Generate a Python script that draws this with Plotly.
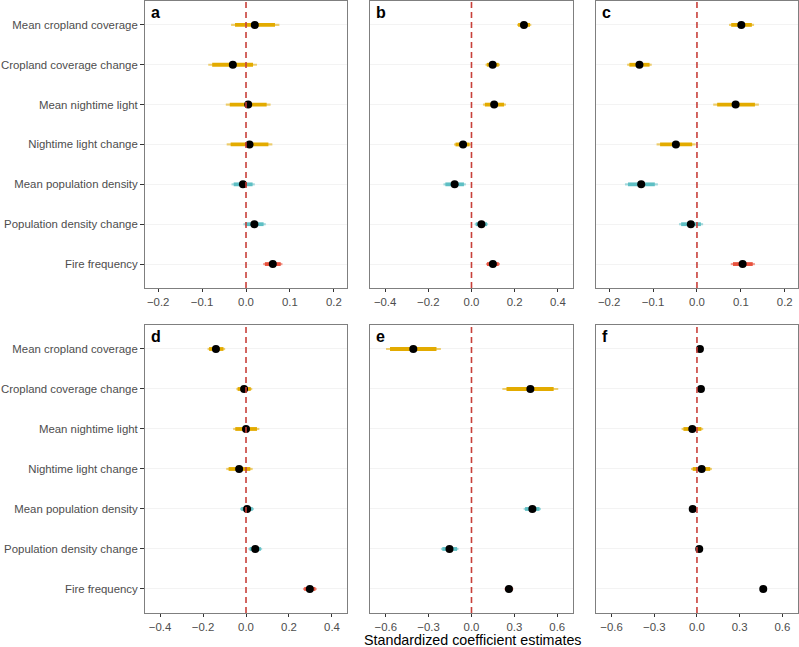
import plotly.graph_objects as go

categories = ["Mean cropland coverage", "Cropland coverage change", "Mean nightime light",
              "Nightime light change", "Mean population density", "Population density change",
              "Fire frequency"]
groups = ["land", "land", "land", "land", "pop", "pop", "fire"]
panel_labels = ["a", "b", "c", "d", "e", "f"]
x_title = "Standardized coefficient estimates"

# panel a
a_est = [0.020, -0.030, 0.005, 0.008, -0.007, 0.019, 0.061]
a_lo = [-0.034, -0.086, -0.046, -0.044, -0.033, -0.006, 0.039]
a_hi = [0.076, 0.025, 0.056, 0.060, 0.020, 0.045, 0.083]
a_ilo = [-0.025, -0.077, -0.037, -0.035, -0.028, -0.002, 0.043]
a_ihi = [0.066, 0.016, 0.047, 0.051, 0.015, 0.040, 0.079]
# panel b
b_est = [0.243, 0.098, 0.105, -0.039, -0.078, 0.046, 0.099]
b_lo = [0.211, 0.065, 0.053, -0.081, -0.130, 0.015, 0.067]
b_hi = [0.277, 0.132, 0.160, -0.003, -0.026, 0.077, 0.132]
b_ilo = [0.216, 0.071, 0.062, -0.074, -0.121, 0.020, 0.072]
b_ihi = [0.271, 0.126, 0.151, -0.009, -0.035, 0.072, 0.126]
# panel c
c_est = [0.101, -0.131, 0.088, -0.048, -0.127, -0.014, 0.104]
c_lo = [0.073, -0.159, 0.037, -0.092, -0.164, -0.041, 0.077]
c_hi = [0.130, -0.103, 0.141, -0.003, -0.089, 0.014, 0.132]
c_ilo = [0.078, -0.154, 0.046, -0.084, -0.157, -0.036, 0.082]
c_ihi = [0.125, -0.108, 0.132, -0.011, -0.096, 0.009, 0.127]
# panel d
d_est = [-0.140, -0.009, 0.000, -0.032, 0.005, 0.043, 0.297]
d_lo = [-0.179, -0.045, -0.060, -0.092, -0.028, 0.011, 0.265]
d_hi = [-0.097, 0.029, 0.062, 0.031, 0.037, 0.075, 0.329]
d_ilo = [-0.172, -0.039, -0.050, -0.081, -0.022, 0.017, 0.271]
d_ihi = [-0.105, 0.022, 0.051, 0.020, 0.031, 0.069, 0.323]
# panel e (no estimates for the two nighttime light predictors)
e_est = [-0.407, 0.412, None, None, 0.426, -0.154, 0.262]
e_lo = [-0.598, 0.216, None, None, 0.365, -0.214, 0.230]
e_hi = [-0.214, 0.607, None, None, 0.486, -0.091, 0.293]
e_ilo = [-0.570, 0.245, None, None, 0.375, -0.204, 0.236]
e_ihi = [-0.245, 0.575, None, None, 0.476, -0.101, 0.288]
# panel f
f_est = [0.021, 0.028, -0.033, 0.033, -0.030, 0.016, 0.466]
f_lo = [0.008, 0.018, -0.108, -0.042, -0.038, 0.010, 0.458]
f_hi = [0.035, 0.038, 0.044, 0.105, -0.022, 0.022, 0.474]
f_ilo = [0.011, 0.020, -0.095, -0.030, -0.037, 0.011, 0.460]
f_ihi = [0.032, 0.036, 0.031, 0.093, -0.023, 0.021, 0.472]

x_ranges = [[-0.23, 0.23], [-0.47, 0.47], [-0.23, 0.23],
            [-0.47, 0.47], [-0.71, 0.71], [-0.71, 0.71]]
x_ticks = [[-0.2, -0.1, 0.0, 0.1, 0.2], [-0.4, -0.2, 0.0, 0.2, 0.4], [-0.2, -0.1, 0.0, 0.1, 0.2],
           [-0.4, -0.2, 0.0, 0.2, 0.4], [-0.6, -0.3, 0.0, 0.3, 0.6], [-0.6, -0.3, 0.0, 0.3, 0.6]]

panels = [
    (a_est, a_lo, a_hi, a_ilo, a_ihi),
    (b_est, b_lo, b_hi, b_ilo, b_ihi),
    (c_est, c_lo, c_hi, c_ilo, c_ihi),
    (d_est, d_lo, d_hi, d_ilo, d_ihi),
    (e_est, e_lo, e_hi, e_ilo, e_ihi),
    (f_est, f_lo, f_hi, f_ilo, f_ihi),
]

dark = {"land": "#E3AB00", "pop": "#5EBFC4", "fire": "#E8513C"}
light = {"land": "rgba(227,171,0,0.55)", "pop": "rgba(94,191,196,0.55)", "fire": "rgba(232,81,60,0.55)"}

col_domains = [[0.1815, 0.4343], [0.4631, 0.7171], [0.7459, 0.9987]]
row_domains = [[0.5549, 0.9985], [0.0526, 0.4977]]

FONT = "Liberation Sans, Arial, sans-serif"
fig = go.Figure()
layout = dict(
    width=799, height=647, margin=dict(l=0, r=0, t=0, b=0, autoexpand=False),
    paper_bgcolor="white", plot_bgcolor="white", showlegend=False,
    font=dict(family=FONT, size=11.4, color="#4D4D4D"),
)
shapes = []
annotations = []

for p, (est, lo, hi, ilo, ihi) in enumerate(panels):
    idx = p + 1
    xa = "x" if idx == 1 else f"x{idx}"
    ya = "y" if idx == 1 else f"y{idx}"
    row, col = divmod(p, 3)
    for g in ["land", "pop", "fire"]:
        rows = [i for i in range(len(categories)) if groups[i] == g and est[i] is not None]
        if not rows:
            continue
        ys = [categories[i] for i in rows]
        xs = [est[i] for i in rows]
        fig.add_trace(go.Scatter(
            x=xs, y=ys, xaxis=xa, yaxis=ya, mode="markers",
            marker=dict(size=1, color="rgba(0,0,0,0)"), hoverinfo="skip",
            error_x=dict(type="data", symmetric=False,
                         array=[hi[i] - est[i] for i in rows],
                         arrayminus=[est[i] - lo[i] for i in rows],
                         width=0, thickness=2.2, color=light[g])))
        fig.add_trace(go.Scatter(
            x=xs, y=ys, xaxis=xa, yaxis=ya, mode="markers",
            marker=dict(size=1, color="rgba(0,0,0,0)"), hoverinfo="skip",
            error_x=dict(type="data", symmetric=False,
                         array=[ihi[i] - est[i] for i in rows],
                         arrayminus=[est[i] - ilo[i] for i in rows],
                         width=0, thickness=3.8, color=dark[g])))
    rows = [i for i in range(len(categories)) if est[i] is not None]
    fig.add_trace(go.Scatter(
        x=[est[i] for i in rows], y=[categories[i] for i in rows], xaxis=xa, yaxis=ya,
        mode="markers", marker=dict(size=8, color="black"),
        hovertext=[categories[i] for i in rows]))

    xkey = "xaxis" if idx == 1 else f"xaxis{idx}"
    ykey = "yaxis" if idx == 1 else f"yaxis{idx}"
    layout[xkey] = dict(
        domain=col_domains[col], anchor=ya, range=x_ranges[p], automargin=False,
        tickvals=x_ticks[p], tickformat=".1f", ticks="outside", ticklen=3,
        tickcolor="#333333", tickwidth=1, showgrid=False, zeroline=False,
        showline=True, linecolor="#7F7F7F", linewidth=1, mirror=True,
        tickfont=dict(family=FONT, size=11.4, color="#4D4D4D"),
    )
    layout[ykey] = dict(
        domain=row_domains[row], anchor=xa, type="category", automargin=False,
        categoryorder="array", categoryarray=categories, range=[6.6, -0.6],
        showgrid=True, gridcolor="#F3F3F3", gridwidth=1, zeroline=False,
        showline=True, linecolor="#7F7F7F", linewidth=1, mirror=True,
        ticks="outside" if col == 0 else "", ticklen=4, tickcolor="#333333",
        showticklabels=(col == 0),
        tickfont=dict(family=FONT, size=11.4, color="#4D4D4D"),
    )
    shapes.append(dict(type="line", xref=xa, yref=f"{ya} domain", x0=0, x1=0, y0=0, y1=1,
                       line=dict(color="#C8403A", width=1.6, dash="6px,4px")))
    annotations.append(dict(text=f"<b>{panel_labels[p]}</b>", xref=f"{xa} domain",
                            yref=f"{ya} domain", x=0.02, y=0.995, xanchor="left",
                            yanchor="top", showarrow=False,
                            font=dict(family=FONT, size=16, color="black")))

annotations.append(dict(text=x_title, xref="paper", yref="paper", x=0.5925, y=0.0,
                        xanchor="center", yanchor="bottom", showarrow=False,
                        borderpad=0, yshift=-2,
                        font=dict(family=FONT, size=14.3, color="black")))

layout["shapes"] = shapes
layout["annotations"] = annotations
fig.update_layout(**layout)
fig.write_html(
    "out.html",
    config={"displayModeBar": False},
    post_script="document.body.style.margin='0';document.body.style.padding='0';"
                "document.body.style.overflow='hidden';",
)
